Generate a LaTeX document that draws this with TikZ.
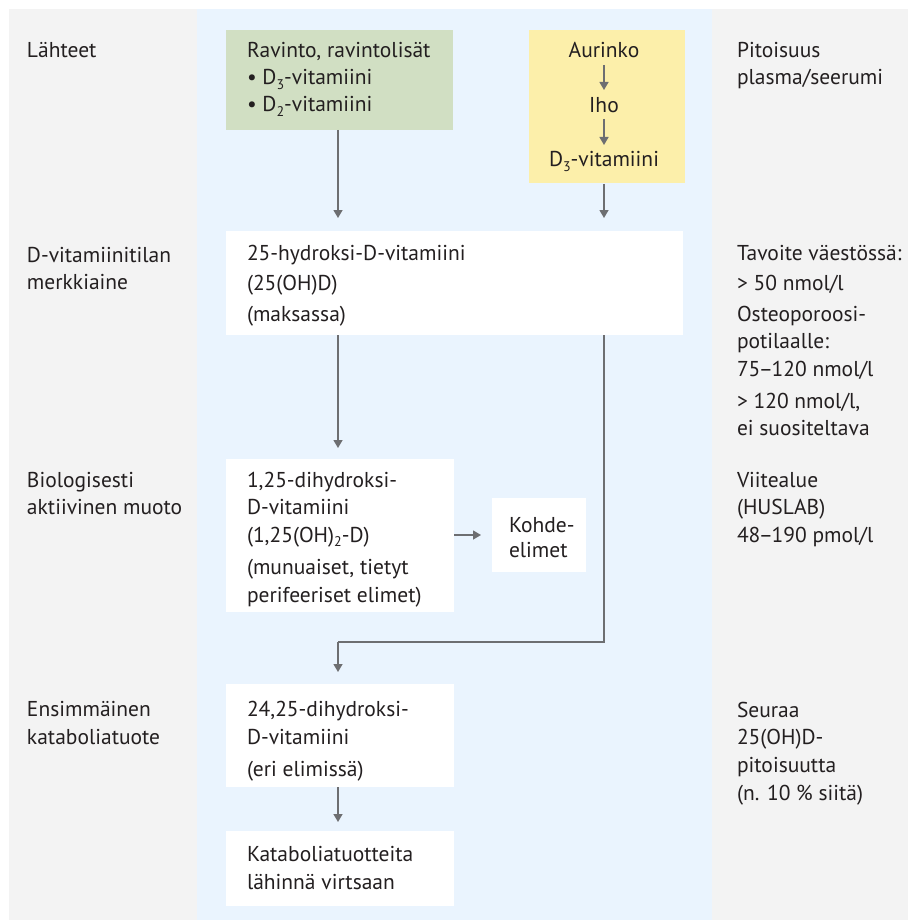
\documentclass[tikz,border=0pt]{standalone}
\usepackage{fontspec}
\setmainfont{PT Sans}
\usetikzlibrary{arrows.meta}
\definecolor{bggray}{HTML}{F3F3F3}
\definecolor{bgblue}{HTML}{EAF4FE}
\definecolor{boxgreen}{HTML}{D1DFC3}
\definecolor{boxyellow}{HTML}{FCEFAA}
\definecolor{txtc}{HTML}{231F20}
\definecolor{arrc}{HTML}{6D6E71}
\newcommand\subs[1]{\raisebox{-0.2em}{\fontsize{14}{14}\selectfont #1}}
\newcommand\ndash{\kern-1.5pt--\kern-1.5pt}
\begin{document}
\begin{tikzpicture}[x=1pt,y=-1pt,
 box/.style={anchor=north west, inner sep=0pt, outer sep=0pt, fill=white},
 txt/.style={anchor=base west, inner sep=0pt, outer sep=0pt, text=txtc, font=\fontsize{21.5}{25}\selectfont},
 ctxt/.style={txt, anchor=base},
 arr/.style={draw=arrc, line width=1.4pt, -{Triangle[width=9pt,length=8pt]}},
 ln/.style={draw=arrc, line width=1.4pt}]
\useasboundingbox (0,0) rectangle (908,920);
\fill[bggray] (9,9) rectangle (908,920);
\fill[bgblue] (197,9) rectangle (712,920);
% boxes
\node[box, fill=boxgreen, minimum width=227pt, minimum height=100pt] (green) at (226,30) {};
\node[box, fill=boxyellow, minimum width=156pt, minimum height=153pt] (yellow) at (529,30) {};
\node[box, minimum width=457pt, minimum height=104pt] (b25) at (226,231) {};
\node[box, minimum width=228pt, minimum height=153pt] (b125) at (226,459) {};
\node[box, minimum width=94pt, minimum height=74pt] (kohde) at (492,498) {};
\node[box, minimum width=228pt, minimum height=103pt] (b2425) at (226,684) {};
\node[box, minimum width=228pt, minimum height=75pt] (kat) at (226,831) {};
% left column
\node[txt] (l1) at (27,58) {Lähteet};
\node[txt] (l2a) at (27,262) {D-vitamiinitilan};
\node[txt] (l2b) at (27,289) {merkkiaine};
\node[txt] (l3a) at (27,487) {Biologisesti};
\node[txt] (l3b) at (27,514) {aktiivinen muoto};
\node[txt] (l4a) at (27,716) {Ensimmäinen};
\node[txt] (l4b) at (27,744) {kataboliatuote};
% right column
\node[txt] (r1a) at (737,58) {Pitoisuus};
\node[txt] (r1b) at (737,85) {plasma/seerumi};
\node[txt] (r2a) at (737,260) {Tavoite väestössä:};
\node[txt] (r2b) at (737,290) {> 50 nmol/l};
\node[txt] (r2c) at (737,321) {Osteoporoosi-};
\node[txt] (r2d) at (737,348) {potilaalle:};
\node[txt] (r2e) at (737,376) {75\ndash120 nmol/l};
\node[txt] (r2f) at (737,408) {> 120 nmol/l,};
\node[txt] (r2g) at (737,435) {ei suositeltava};
\node[txt] (r3a) at (737,487) {Viitealue};
\node[txt] (r3b) at (737,514) {(HUSLAB)};
\node[txt] (r3c) at (737,542) {48\ndash190 pmol/l};
\node[txt] (r4a) at (737,717) {Seuraa};
\node[txt] (r4b) at (737,744) {25(OH)D-};
\node[txt] (r4c) at (737,772) {pitoisuutta};
\node[txt] (r4d) at (737,800) {(n. 10 \% siitä)};
% green box text
\node[txt] (g1) at (247,58) {Ravinto, ravintolisät};
\node[txt] (g2) at (247,85) {• D\subs{3}-vitamiini};
\node[txt] (g3) at (247,112) {• D\subs{2}-vitamiini};
% yellow box text
\node[ctxt] (aur) at (604,58) {Aurinko};
\node[ctxt] (iho) at (604,113) {Iho};
\node[ctxt] (d3y) at (604,167) {D\subs{3}-vitamiini};
% b25 text
\node[txt] (t25a) at (247,260) {25-hydroksi-D-vitamiini};
\node[txt] (t25b) at (247,290) {(25(OH)D)};
\node[txt] (t25c) at (247,321) {(maksassa)};
% b125 text
\node[txt] (t125a) at (247,487) {1,25-dihydroksi-};
\node[txt] (t125b) at (247,514) {D-vitamiini};
\node[txt] (t125c) at (247,542) {(1,25(OH)\subs{2}-D)};
\node[txt] (t125d) at (247,574) {(munuaiset, tietyt};
\node[txt] (t125e) at (247,602) {perifeeriset elimet)};
% kohde text
\node[txt] (tk1) at (509,532) {Kohde-};
\node[txt] (tk2) at (509,557) {elimet};
% b2425 text
\node[txt] (t24a) at (247,716) {24,25-dihydroksi-};
\node[txt] (t24b) at (247,744) {D-vitamiini};
\node[txt] (t24c) at (247,776) {(eri elimissä)};
% kat text
\node[txt] (tka) at (247,861) {Kataboliatuotteita};
\node[txt] (tkb) at (247,889) {lähinnä virtsaan};
% connectors
\coordinate (cl) at (338,0);
\coordinate (cr) at (604,0);
\coordinate (cm) at (0,535);
\coordinate (cj) at (0,642);
\draw[arr] ([yshift=-7pt]aur.base -| cr) -- ([yshift=23pt]iho.base -| cr);
\draw[arr] ([yshift=-6pt]iho.base -| cr) -- ([yshift=22pt]d3y.base -| cr);
\draw[arr, shorten >=13pt] (green.south -| cl) -- (b25.north -| cl);
\draw[arr, shorten >=13pt] ([yshift=-1pt]yellow.south -| cr) -- (b25.north -| cr);
\draw[arr, shorten >=11pt] (b25.south -| cl) -- (b125.north -| cl);
\draw[ln] (b25.south -| cr) -- (cj -| cr) -- (cj -| cl);
\draw[arr, shorten >=12pt] (cj -| cl) -- (b2425.north -| cl);
\draw[arr, shorten >=11pt] (b125.east |- cm) -- (kohde.west |- cm);
\draw[arr, shorten >=9pt] (b2425.south -| cl) -- (kat.north -| cl);
\end{tikzpicture}
\end{document}
